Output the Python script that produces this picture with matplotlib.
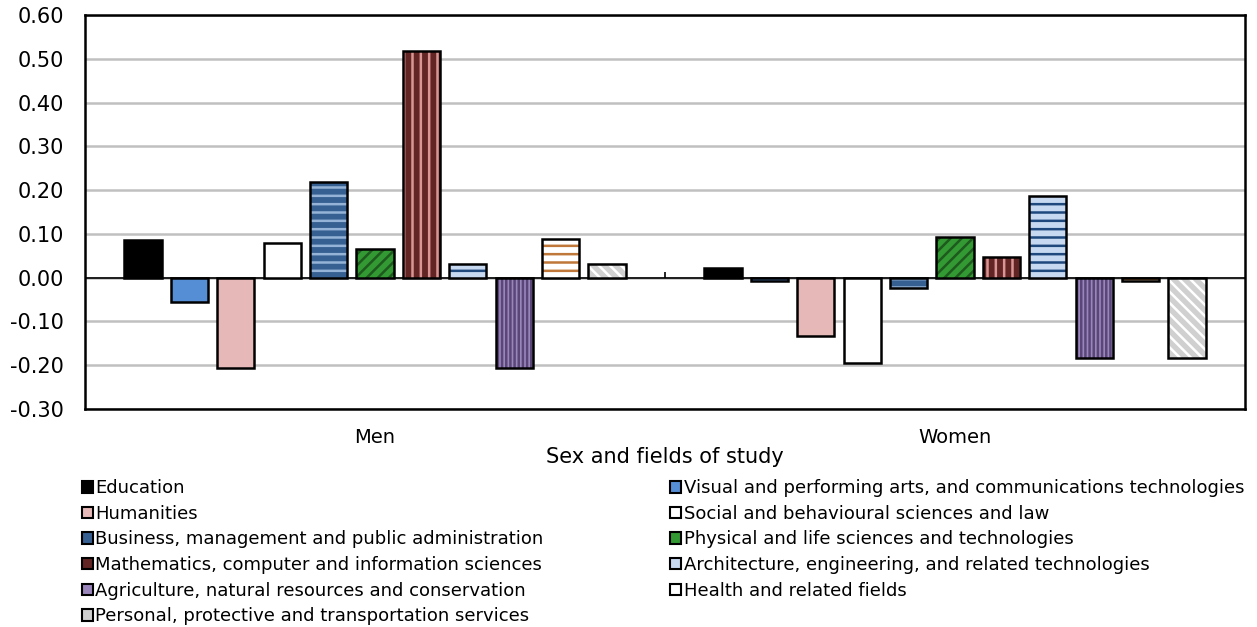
import matplotlib.pyplot as plt
import numpy as np
from matplotlib.patches import Patch

plt.rcParams['font.family'] = ['DejaVu Sans']
plt.rcParams['hatch.linewidth'] = 1.8

groups = ["Men", "Women"]
fields = [
    "Education",
    "Visual and performing arts, and communications technologies",
    "Humanities",
    "Social and behavioural sciences and law",
    "Business, management and public administration",
    "Physical and life sciences and technologies",
    "Mathematics, computer and information sciences",
    "Architecture, engineering, and related technologies",
    "Agriculture, natural resources and conservation",
    "Health and related fields",
    "Personal, protective and transportation services",
]
men = [0.085, -0.057, -0.206, 0.080, 0.218, 0.066, 0.518, 0.030, -0.206, 0.087, 0.030]
women = [0.021, -0.009, -0.133, -0.195, -0.025, 0.092, 0.046, 0.186, -0.183, -0.007, -0.183]

# face colour, hatch, hatch colour
styles = [
    ("#000000", None, None),
    ("#558ed5", None, None),
    ("#e6b9b8", None, None),
    ("#ffffff", None, None),
    ("#366092", "--", "#95b3d7"),
    ("#339933", "///", "#1e5a1e"),
    ("#632523", "||", "#d99594"),
    ("#c6d9f1", "--", "#1f497d"),
    ("#9a86bb", "||||", "#5a4778"),
    ("#ffffff", "--", "#c0773a"),
    ("#d0d0d0", "\\\\\\", "#ffffff"),
]

fig, ax = plt.subplots(figsize=(12.57, 6.27), dpi=100)
fig.subplots_adjust(left=0.0676, right=0.9905, top=0.976, bottom=0.348)

n = len(fields)
slot = 1.0 / 12.5
width = slot * 0.8
x = np.arange(len(groups))
vals = np.array([men, women])
for i in range(n):
    fc, hatch, hc = styles[i]
    pos = x - (n - 1) / 2 * slot + i * slot
    if hatch:
        ax.bar(pos, vals[:, i], width, color=fc, hatch=hatch, edgecolor=hc, linewidth=0, zorder=3)
    else:
        ax.bar(pos, vals[:, i], width, color=fc, linewidth=0, zorder=3)
    ax.bar(pos, vals[:, i], width, fill=False, edgecolor="black", linewidth=1.8, zorder=4)

ax.axhline(0, color="black", linewidth=1.2, zorder=2)
ax.vlines([0.5], 0, 0.012, color="black", linewidth=1.2, zorder=2)

ax.set_xlim(-0.5, 1.5)
ax.set_ylim(-0.30, 0.60)
ax.set_yticks(np.arange(-0.30, 0.601, 0.10))
ax.set_yticklabels([f"{v:.2f}" for v in np.arange(-0.30, 0.601, 0.10)])
ax.set_xticks(x)
ax.set_xticklabels(groups)
ax.tick_params(axis="y", length=0, labelsize=15, pad=15)
ax.tick_params(axis="x", length=0, labelsize=14, pad=14)
ax.grid(axis="y", color="#c0c0c0", linewidth=1.8, zorder=0)
ax.set_axisbelow(True)
for s in ax.spines.values():
    s.set_linewidth(1.8)
ax.set_xlabel("Sex and fields of study", fontsize=15, labelpad=0)

handles = [Patch(facecolor=styles[i][0], edgecolor="black", linewidth=1.5) for i in range(n)]
order = [0, 2, 4, 6, 8, 10, 1, 3, 5, 7, 9]
fig.legend([handles[i] for i in order], [fields[i] for i in order],
           loc="upper left", bbox_to_anchor=(0.058, 0.25), ncol=2, frameon=False,
           fontsize=13, handlelength=0.6, handleheight=0.6, handletextpad=0.15,
           labelspacing=0.42, columnspacing=7.0, borderpad=0)

fig.savefig("out.png", dpi=100)
